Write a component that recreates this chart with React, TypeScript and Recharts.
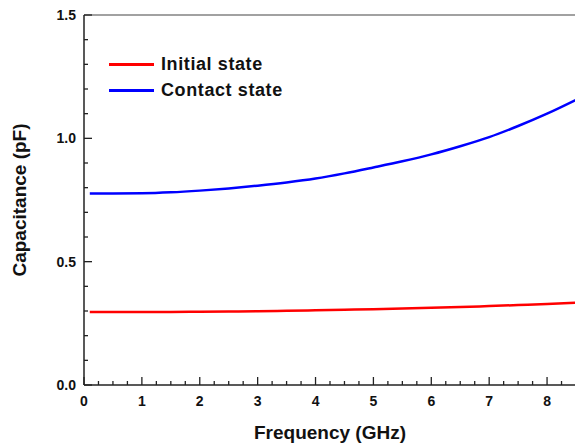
import React from "react";
import {
  LineChart,
  Line,
  XAxis,
  YAxis,
  Legend,
  ReferenceLine,
} from "recharts";

// Frequency sample points (GHz)
const freq = [0.1, 0.5, 1, 1.5, 2, 2.5, 3, 3.5, 4, 4.5, 5, 5.5, 6, 6.5, 7, 7.5, 8, 8.5];
// Capacitance (pF)
const initialState = [0.296, 0.296, 0.296, 0.296, 0.297, 0.298, 0.299, 0.301, 0.303, 0.305, 0.307, 0.31, 0.313, 0.316, 0.32, 0.324, 0.328, 0.334];
const contactState = [0.776, 0.776, 0.777, 0.781, 0.788, 0.797, 0.808, 0.821, 0.837, 0.858, 0.882, 0.907, 0.935, 0.968, 1.005, 1.05, 1.1, 1.156];
const seriesNames = ["Initial state", "Contact state"];

const xTicks = [0, 0.25, 0.5, 0.75, 1, 1.25, 1.5, 1.75, 2, 2.25, 2.5, 2.75, 3, 3.25, 3.5, 3.75, 4, 4.25, 4.5, 4.75, 5, 5.25, 5.5, 5.75, 6, 6.25, 6.5, 6.75, 7, 7.25, 7.5, 7.75, 8, 8.25];
const yTicks = [0, 0.1, 0.2, 0.3, 0.4, 0.5, 0.6, 0.7, 0.8, 0.9, 1.0, 1.1, 1.2, 1.3, 1.4, 1.5];

const data = freq.map((f, i) => ({
  f,
  initial: initialState[i],
  contact: contactState[i],
}));

const FONT = "'Liberation Sans', Arial, sans-serif";
const AXIS = "#222";

// ticks point inward, labels only on major ticks
const XTick = (props: any) => {
  const { x, y, payload } = props;
  const v = payload.value as number;
  const major = Math.abs(v - Math.round(v)) < 1e-6;
  return (
    <g>
      <line x1={x} x2={x} y1={y} y2={y - (major ? 8 : 4)} stroke={AXIS} strokeWidth={1.3} />
      {major && (
        <text x={x} y={y + 21} textAnchor="middle" fontFamily={FONT} fontWeight="bold" fontSize={14} fill="#111">
          {v}
        </text>
      )}
    </g>
  );
};

const YTick = (props: any) => {
  const { x, y, payload } = props;
  const v = payload.value as number;
  const major = Math.abs(v * 2 - Math.round(v * 2)) < 1e-6;
  return (
    <g>
      <line x1={x} x2={x + (major ? 8 : 4)} y1={y} y2={y} stroke={AXIS} strokeWidth={1.3} />
      {major && (
        <text x={x - 8} y={y + 5} textAnchor="end" fontFamily={FONT} fontWeight="bold" fontSize={14} fill="#111">
          {v.toFixed(1)}
        </text>
      )}
    </g>
  );
};

const LegendBox = (props: any) => {
  const items = [...(props.payload || [])].sort(
    (a: any, b: any) => seriesNames.indexOf(a.value) - seriesNames.indexOf(b.value)
  );
  return (
    <div style={{ fontFamily: FONT, fontWeight: "bold", fontSize: 18, color: "#111" }}>
      {items.map((it: any) => (
        <div key={it.value} style={{ display: "flex", alignItems: "center", height: 26 }}>
          <span style={{ display: "inline-block", width: 45, height: 3, background: it.color, marginRight: 7 }} />
          <span style={{ letterSpacing: 0.6 }}>{it.value}</span>
        </div>
      ))}
    </div>
  );
};

export default function App() {
  return (
    <div style={{ position: "absolute", left: 0, top: 0, width: 575, height: 448, overflow: "hidden", background: "#fff" }}>
      <LineChart width={576} height={448} data={data} margin={{ top: 15, right: 0, bottom: 0, left: 0 }}>
        <XAxis
          dataKey="f"
          type="number"
          domain={[0, 8.5]}
          ticks={xTicks}
          interval={0}
          tick={<XTick />}
          tickLine={false}
          tickSize={0}
          tickMargin={0}
          height={63}
          stroke={AXIS}
          strokeWidth={1.5}
          label={(p: any) => {
            const vb = p.viewBox;
            return (
              <text x={vb.x + vb.width / 2} y={439} textAnchor="middle" fontFamily={FONT} fontWeight="bold" fontSize={19} fill="#111">
                Frequency (GHz)
              </text>
            );
          }}
        />
        <YAxis
          type="number"
          domain={[0, 1.5]}
          ticks={yTicks}
          interval={0}
          tick={<YTick />}
          tickLine={false}
          tickSize={0}
          tickMargin={0}
          width={84}
          stroke={AXIS}
          strokeWidth={1.5}
          label={(p: any) => {
            const vb = p.viewBox;
            const cy = vb.y + vb.height / 2;
            return (
              <text x={26} y={cy} transform={`rotate(-90 26 ${cy})`} textAnchor="middle" fontFamily={FONT} fontWeight="bold" fontSize={19} fill="#111">
                Capacitance (pF)
              </text>
            );
          }}
        />
        <ReferenceLine y={1.5} stroke="#444" strokeWidth={1.2} />
        <Legend
          layout="vertical"
          align="center"
          verticalAlign="middle"
          content={<LegendBox />}
          wrapperStyle={{ position: "absolute", left: 109, top: 51, width: "auto" }}
        />
        <Line
          type="monotone"
          dataKey="initial"
          name={seriesNames[0]}
          stroke="#ff0000"
          strokeWidth={2.5}
          dot={false}
          isAnimationActive={false}
        />
        <Line
          type="monotone"
          dataKey="contact"
          name={seriesNames[1]}
          stroke="#0000ff"
          strokeWidth={2.5}
          dot={false}
          isAnimationActive={false}
        />
      </LineChart>
    </div>
  );
}
